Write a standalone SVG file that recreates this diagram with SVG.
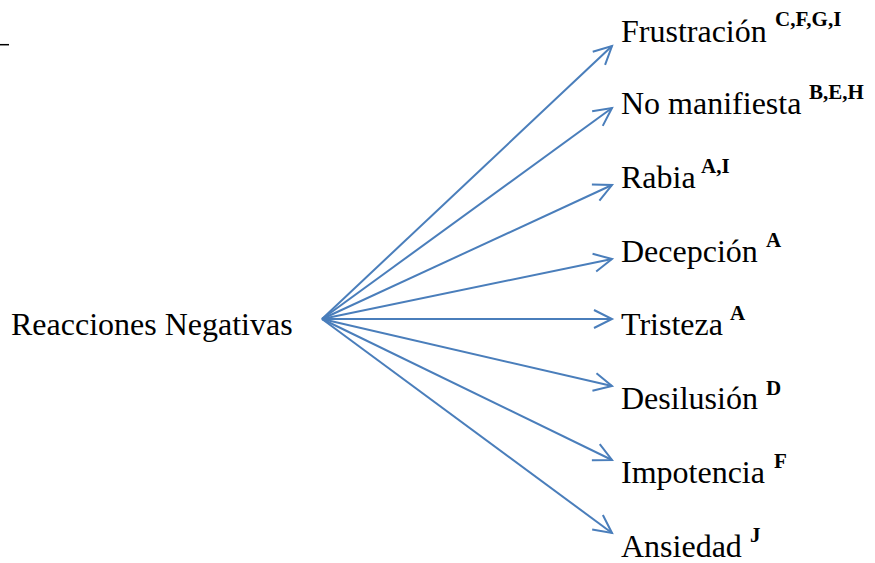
<svg xmlns="http://www.w3.org/2000/svg" width="875" height="563" viewBox="0 0 875 563">
<style>
.t{font-family:"Liberation Serif","Times New Roman",serif;font-size:32px;fill:#000}
.s{font-family:"Liberation Serif","Times New Roman",serif;font-size:21px;font-weight:bold;fill:#000}
.c{stroke:#4A7EBB;stroke-width:2;fill:none;marker-end:url(#ah)}
</style>
<defs>
<marker id="ah" markerUnits="userSpaceOnUse" markerWidth="30" markerHeight="30" viewBox="-20 -15 22 30" refX="0" refY="0" orient="auto">
<path d="M-18,-9 L0,0 L-18,9" fill="none" stroke="#4A7EBB" stroke-width="2"/>
</marker>
</defs>
<rect width="875" height="563" fill="#fff"/>
<line x1="0" y1="44.7" x2="9" y2="44.7" stroke="#000" stroke-width="1.5"/>
<g id="connectors">
<line class="c" x1="322" y1="319" x2="612" y2="46"/>
<line class="c" x1="322" y1="319" x2="612" y2="108"/>
<line class="c" x1="322" y1="319" x2="612" y2="185"/>
<line class="c" x1="322" y1="319" x2="612" y2="259"/>
<line class="c" x1="322" y1="319" x2="612" y2="319"/>
<line class="c" x1="322" y1="319" x2="612" y2="386"/>
<line class="c" x1="322" y1="319" x2="612" y2="460"/>
<line class="c" x1="322" y1="319" x2="612" y2="533"/>
</g>
<g id="root"><text class="t" x="11" y="335">Reacciones Negativas</text></g>
<g id="n1"><text class="t" x="621" y="42">Frustración</text><text class="s" x="775" y="26">C,F,G,I</text></g>
<g id="n2"><text class="t" x="621" y="114">No manifiesta</text><text class="s" x="809" y="99">B,E,H</text></g>
<g id="n3"><text class="t" x="621" y="188">Rabia</text><text class="s" x="701" y="173">A,I</text></g>
<g id="n4"><text class="t" x="621" y="262">Decepción</text><text class="s" x="766" y="247">A</text></g>
<g id="n5"><text class="t" x="621" y="335">Tristeza</text><text class="s" x="730" y="320">A</text></g>
<g id="n6"><text class="t" x="621" y="409">Desilusión</text><text class="s" x="766" y="395">D</text></g>
<g id="n7"><text class="t" x="621" y="483">Impotencia</text><text class="s" x="774" y="468">F</text></g>
<g id="n8"><text class="t" x="621" y="557">Ansiedad</text><text class="s" x="750" y="542">J</text></g>
</svg>
